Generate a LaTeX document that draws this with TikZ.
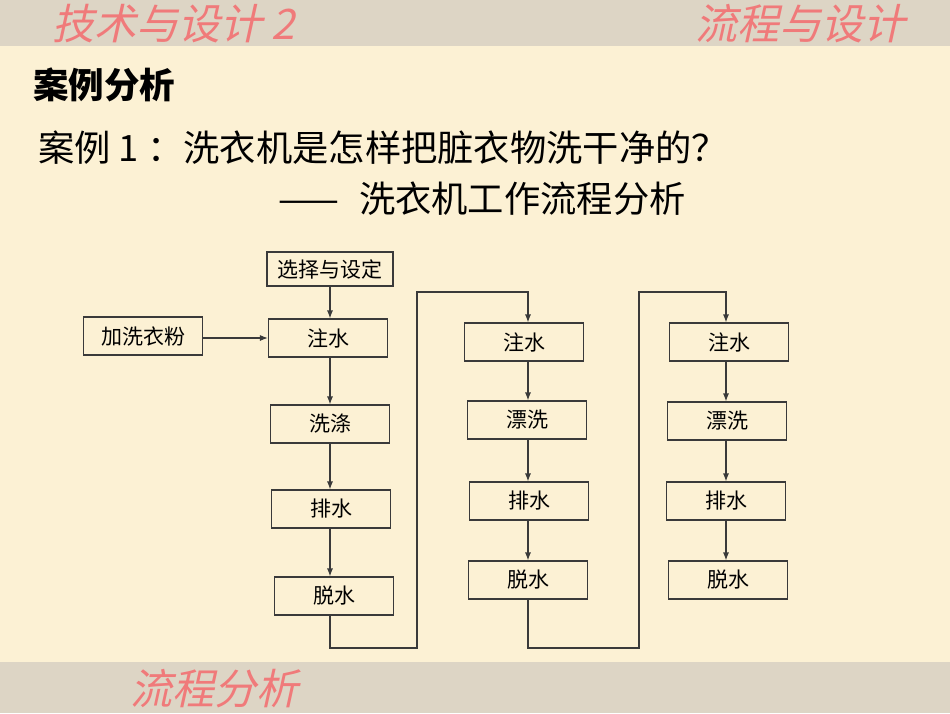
\documentclass[tikz,border=0pt]{standalone}
\usepackage{fontspec}
\setmainfont{Noto Sans CJK SC}
\newfontfamily\hdrfont{Noto Sans CJK SC}[FakeSlant=0.22]
\usetikzlibrary{arrows.meta}
\definecolor{bgcream}{HTML}{FCF1D4}
\definecolor{bandgray}{HTML}{DDD5C5}
\definecolor{pinktxt}{HTML}{F07A7A}
\definecolor{linegray}{HTML}{3A3A3A}
\tikzset{
  box/.style={draw=linegray, line width=1.1pt, minimum height=38pt, minimum width=119pt, inner sep=0pt, font=\fontsize{21}{21}\selectfont},
  flow/.style={draw=linegray, line width=1.1pt, -{Latex[length=8pt,width=6pt]}},
  link/.style={draw=linegray, line width=1.1pt},
  hdr/.style={text=pinktxt, anchor=west, inner sep=0pt, font=\hdrfont\fontsize{42}{42}\selectfont},
  ttl/.style={anchor=west, inner sep=0pt, font=\fontsize{36.3}{36.3}\selectfont}
}
\begin{document}
\begin{tikzpicture}[x=1pt,y=-1pt]
\useasboundingbox (0,0) rectangle (950,713);
\fill[bgcream] (0,0) rectangle (950,713);
\fill[bandgray] (0,0) rectangle (950,46);
\fill[bandgray] (0,662) rectangle (950,713);
\node[hdr] (h1) at (52,24) {技术与设计 2};
\node[hdr] (h2) at (695,24) {流程与设计};
\node[hdr] (h3) at (130,689) {流程分析};
\node[ttl, font=\bfseries\fontsize{35.5}{35.5}\selectfont] (t1) at (33,85) {案例分析};
\node[ttl] (t2) at (38,148) {案例 1 ：洗衣机是怎样把脏衣物洗干净的？};
\node[ttl] (t3) at (278,199) {——\hspace{20pt}洗衣机工作流程分析};
% column 1
\node[box, minimum width=126pt, minimum height=34pt] (sel) at (330,269) {选择与设定};
\node[box] (pow) at (143,336) {加洗衣粉};
\node[box] (in1) at (328,338) {注水};
\node[box] (wash) at (330,424) {洗涤};
\node[box] (dr1) at (331,509) {排水};
\node[box] (sp1) at (334,596) {脱水};
% column 2
\node[box] (in2) at (524,342) {注水};
\node[box] (ri2) at (527,420) {漂洗};
\node[box] (dr2) at (529,501) {排水};
\node[box] (sp2) at (528,580) {脱水};
% column 3
\node[box] (in3) at (729,342) {注水};
\node[box] (ri3) at (727,421) {漂洗};
\node[box] (dr3) at (726,501) {排水};
\node[box] (sp3) at (728,580) {脱水};
% column x references
\coordinate (c1) at (330,0);
\coordinate (c2) at (528,0);
\coordinate (c3) at (726,0);
% arrows column 1
\draw[flow] (sel.south -| c1) -- (in1.north -| c1);
\draw[flow] (pow.east |- 0,338) -- (in1.west |- 0,338);
\draw[flow] (in1.south -| c1) -- (wash.north -| c1);
\draw[flow] (wash.south -| c1) -- (dr1.north -| c1);
\draw[flow] (dr1.south -| c1) -- (sp1.north -| c1);
% arrows column 2
\draw[flow] (in2.south -| c2) -- (ri2.north -| c2);
\draw[flow] (ri2.south -| c2) -- (dr2.north -| c2);
\draw[flow] (dr2.south -| c2) -- (sp2.north -| c2);
% arrows column 3
\draw[flow] (in3.south -| c3) -- (ri3.north -| c3);
\draw[flow] (ri3.south -| c3) -- (dr3.north -| c3);
\draw[flow] (dr3.south -| c3) -- (sp3.north -| c3);
% loops
\coordinate (l1a) at (330,648);
\coordinate (l1b) at (417,648);
\coordinate (l1c) at (417,292);
\coordinate (l1d) at (528,292);
\draw[flow] (sp1.south -| c1) -- (l1a) -- (l1b) -- (l1c) -- (l1d) -- (in2.north -| c2);
\coordinate (l2a) at (528,648);
\coordinate (l2b) at (639,648);
\coordinate (l2c) at (639,292);
\coordinate (l2d) at (726,292);
\draw[flow] (sp2.south -| c2) -- (l2a) -- (l2b) -- (l2c) -- (l2d) -- (in3.north -| c3);
\end{tikzpicture}
\end{document}
